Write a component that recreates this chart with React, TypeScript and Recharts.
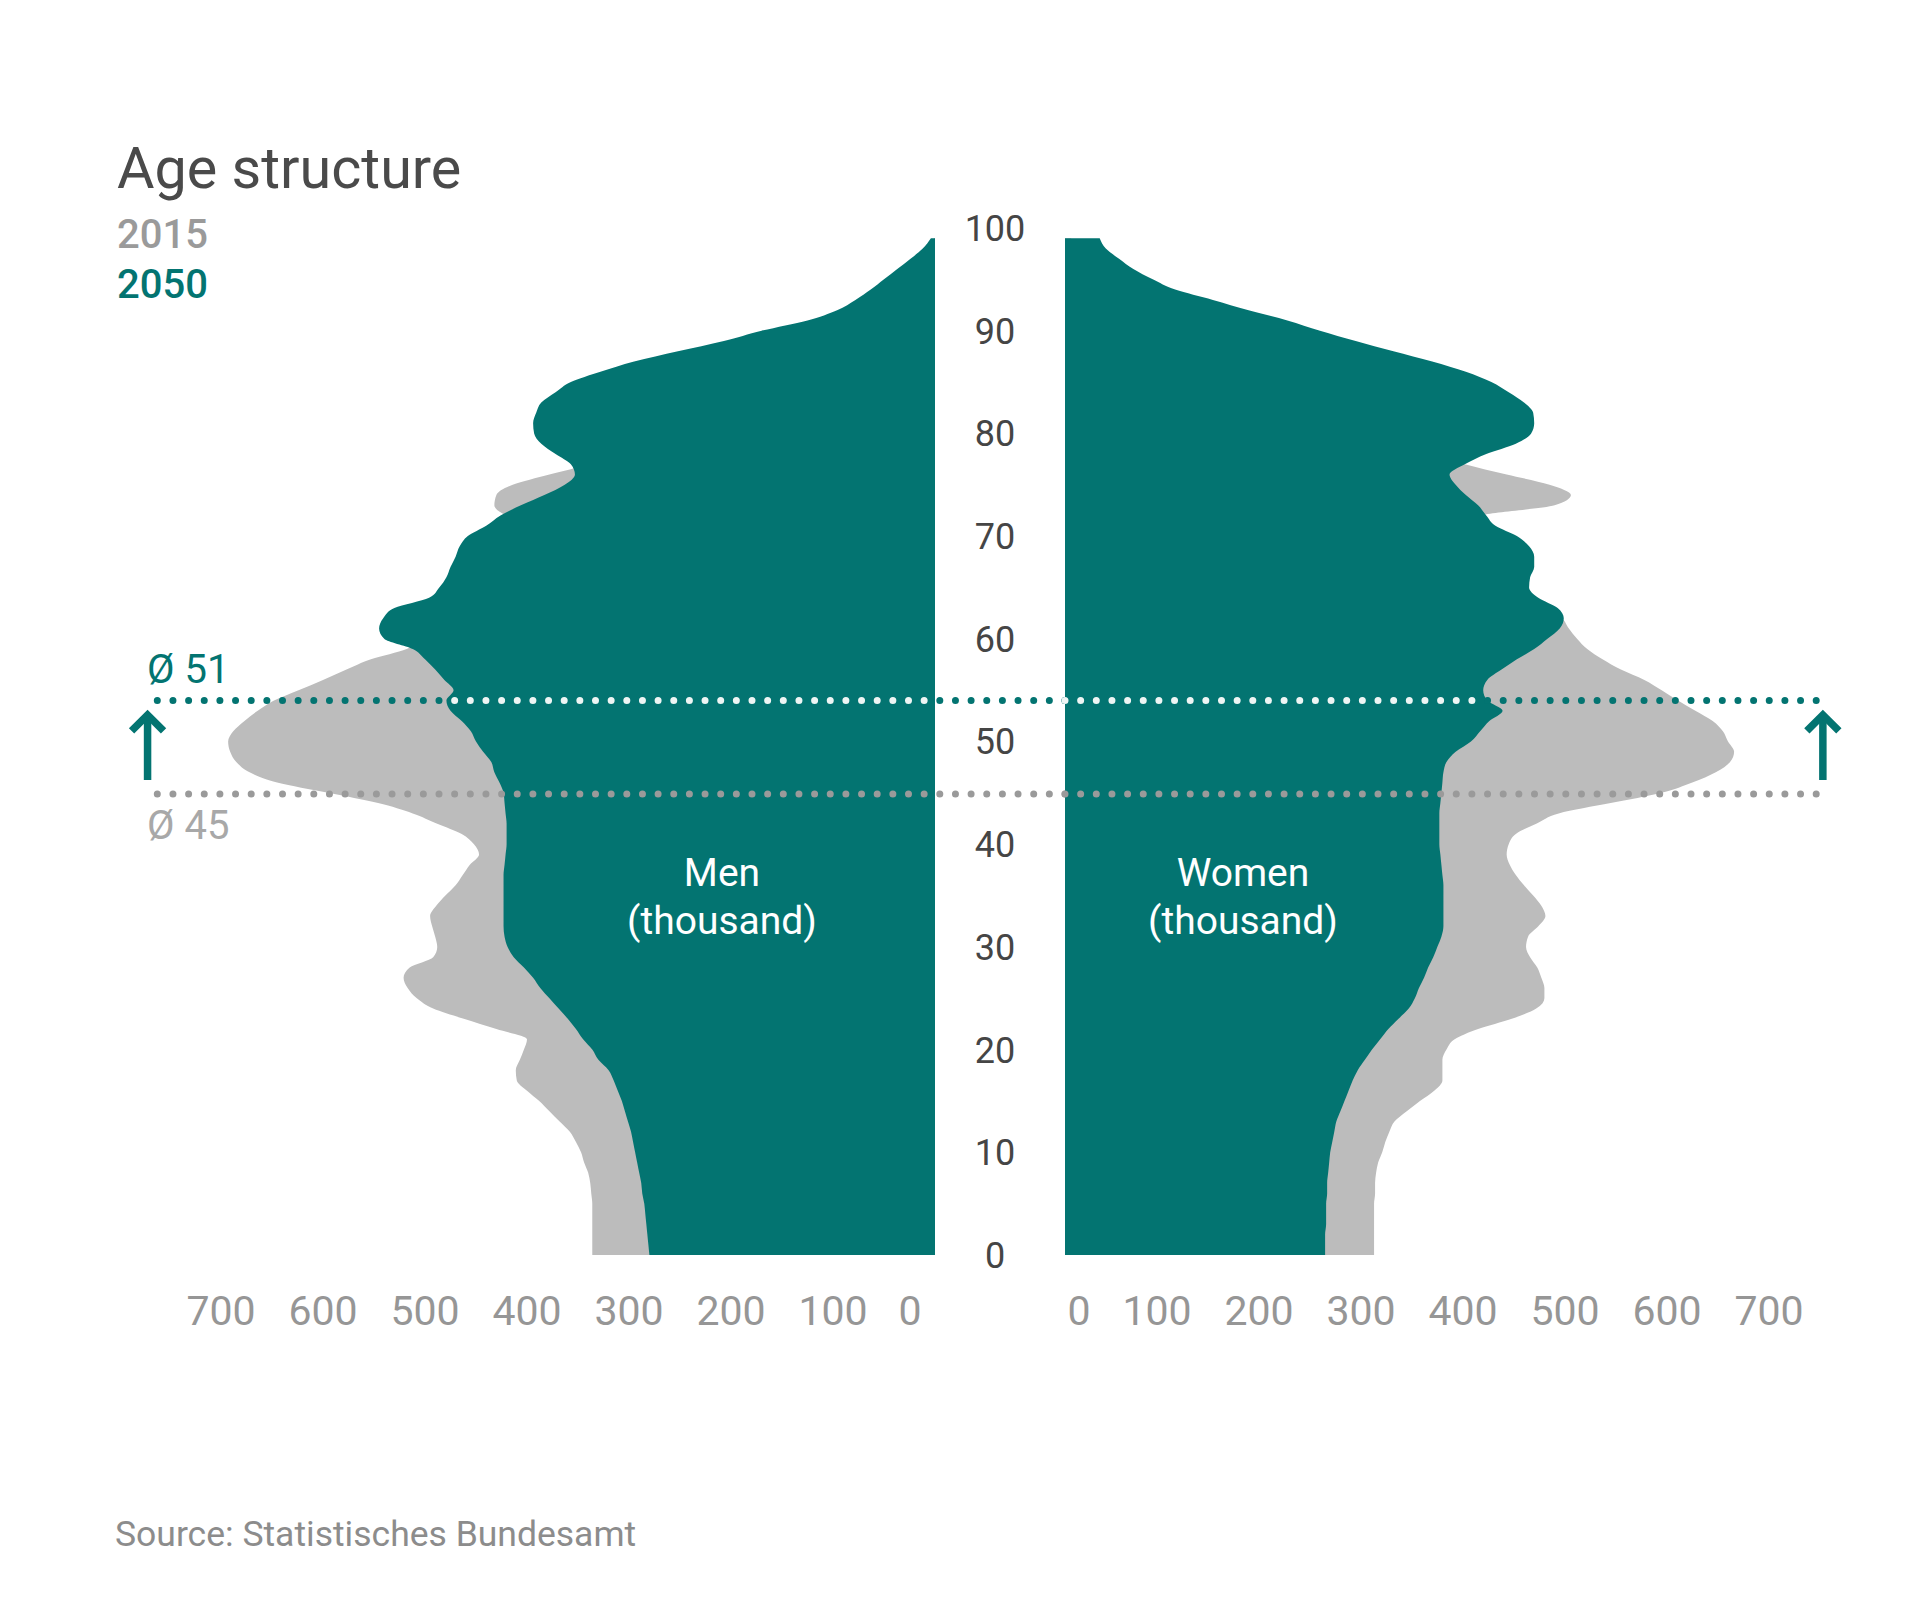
import React from 'react';
import { ComposedChart, Area, XAxis, YAxis, ReferenceLine } from 'recharts';

const TEAL = '#037471';
const AREA_GRAY = '#bcbcbc';
const DOT_GRAY = '#9a9a9a';

// ages 0..99
const ages = Array.from({ length: 100 }, (_, i) => i);

// population per single year of age, thousand
const men2015 = [
  336, 336, 336, 336, 336, 336, 337, 338, 340, 344,
  347, 352, 358, 368, 378, 388, 400, 410, 411, 407,
  403, 400, 430, 462, 492, 508, 517, 521, 515, 492,
  488, 490, 493, 495, 489, 480, 470, 463, 456, 447,
  452, 464, 488, 512, 546, 595, 645, 672, 685, 691,
  693, 688, 677, 664, 648, 624, 600, 577, 553, 518,
  505, 498, 490, 480, 468, 455, 440, 420, 400, 380,
  360, 390, 420, 432, 430, 414, 378, 340, 320, 300,
  270, 240, 210, 185, 160, 140, 120, 100, 80, 60,
  42, 30, 22, 15, 10, 7, 5, 3, 2, 1,
];
const men2050 = [
  280, 281, 282, 283, 284, 285, 287, 288, 290, 292,
  294, 296, 298, 301, 304, 307, 311, 315, 320, 330,
  336, 345, 352, 360, 369, 378, 387, 394, 403, 413,
  419, 422, 423, 423, 423, 423, 423, 423, 422, 421,
  420, 420, 420, 421, 422, 423, 427, 432, 435, 443,
  450, 455, 464, 475, 479, 472, 481, 490, 500, 512,
  540, 545, 541, 530, 496, 486, 479, 475, 470, 466,
  458, 440, 426, 406, 383, 363, 353, 357, 372, 386,
  393, 394, 391, 386, 372, 357, 328, 295, 252, 207,
  170, 125, 96, 78, 63, 50, 37, 24, 12, 4,
];
const women2015 = [
  303, 303, 303, 303, 303, 303, 304, 304, 305, 307,
  311, 314, 318, 323, 335, 348, 362, 370, 370, 370,
  374, 382, 405, 438, 462, 470, 470, 467, 463, 456,
  452, 454, 464, 471, 467, 459, 450, 442, 436, 433,
  435, 442, 462, 484, 535, 585, 615, 638, 652, 656,
  650, 645, 635, 618, 601, 585, 568, 545, 527, 512,
  502, 494, 487, 470, 455, 445, 430, 420, 405, 395,
  380, 395, 408, 480, 496, 475, 433, 392, 360, 340,
  310, 280, 250, 225, 200, 180, 160, 140, 120, 100,
  80, 65, 50, 40, 30, 22, 16, 11, 8, 6,
];
const women2050 = [
  255, 255, 255, 256, 256, 256, 257, 257, 258, 259,
  260, 262, 264, 266, 270, 274, 278, 282, 287, 294,
  301, 309, 317, 327, 337, 343, 347, 352, 356, 361,
  365, 369, 371, 371, 371, 371, 371, 370, 369, 368,
  367, 367, 367, 367, 368, 369, 370, 371, 374, 383,
  398, 407, 416, 429, 414, 410, 414, 428, 443, 460,
  473, 485, 489, 483, 464, 455, 456, 460, 460, 455,
  443, 422, 413, 405, 393, 383, 377, 392, 413, 442,
  457, 460, 459, 450, 435, 418, 393, 360, 322, 285,
  250, 218, 180, 145, 108, 86, 67, 53, 40, 34,
];

const valueTicks = [0, 100, 200, 300, 400, 500, 600, 700];
const ageTicks = [0, 10, 20, 30, 40, 50, 60, 70, 80, 90, 100];

// average age markers: labels and where the dotted lines sit
const avgLabel2015 = '45';
const avgLabel2050 = '51';
const avgLine2015 = 44.9;
const avgLine2050 = 54;

const menData = ages.map((age, i) => ({ age, y2015: men2015[i], y2050: men2050[i] }));
const womenData = ages.map((age, i) => ({ age, y2015: women2015[i], y2050: women2050[i] }));

const W = 1906;
const H = 1600;
const PLOT_TOP = 228;
const PLOT_BOTTOM = 1255;
const XAXIS_H = 60;
const MEN_LEFT = 221;
const MEN_RIGHT = 935;
const WOMEN_LEFT = 1065;
const WOMEN_RIGHT = 1779;
const AGE_AXIS_W = 70;
const DOT_STEP = 15.65;
const PX_PER_UNIT = (MEN_RIGHT - MEN_LEFT) / 700;
// gap between the two zero lines, in men-axis units (negative = right of zero)
const GAP_UNITS = -(WOMEN_LEFT - MEN_RIGHT) / PX_PER_UNIT;
const GAP_DASH_OFFSET = (WOMEN_LEFT - MEN_RIGHT) % DOT_STEP;

const makeValueTick = (shift: number, zeroShift: number) => (props: any) => {
  const { x, y, payload } = props;
  const v = payload.value;
  return (
    <text
      x={x + shift + (v === 0 ? zeroShift : 0)}
      y={y}
      dy={70}
      textAnchor="middle"
      fill="#969696"
      fontSize={41}
      fontFamily="Roboto"
    >
      {v}
    </text>
  );
};

const AgeTick = (props: any) => {
  const { x, y, payload } = props;
  return (
    <text x={x} y={y} dy="0.36em" textAnchor="middle" fill="#454545" fontSize={36} fontFamily="Roboto">
      {payload.value}
    </text>
  );
};

// segment goes tail -> tip
const Arrow = (props: any) => {
  const { x1, y1, x2, y2 } = props;
  return (
    <g>
      <line x1={x1} y1={y1} x2={x2} y2={y2 + 5} stroke={TEAL} strokeWidth={7.5} />
      <polyline
        points={`${x2 - 16},${y2 + 21} ${x2},${y2 + 5} ${x2 + 16},${y2 + 21}`}
        fill="none"
        stroke={TEAL}
        strokeWidth={7.5}
      />
    </g>
  );
};

const dotted = (color: string, offset = 0) => ({
  stroke: color,
  strokeWidth: 7,
  strokeDasharray: `0 ${DOT_STEP}`,
  strokeDashoffset: offset,
  strokeLinecap: 'round' as const,
  ifOverflow: 'visible' as const,
});

export default function App() {
  const bottomMargin = H - PLOT_BOTTOM - XAXIS_H;
  return (
    <div
      style={{
        position: 'absolute',
        left: 0,
        top: 0,
        width: W,
        height: H,
        background: '#fff',
        fontFamily: 'Roboto',
      }}
    >
      <div style={{ position: 'absolute', left: 0, top: 0 }}>
        <ComposedChart
          layout="vertical"
          width={W}
          height={H}
          data={menData}
          margin={{ top: PLOT_TOP, bottom: bottomMargin, left: MEN_LEFT, right: W - MEN_RIGHT }}
        >
          <XAxis
            type="number"
            domain={[0, 700]}
            ticks={valueTicks}
            interval={0}
            reversed
            axisLine={false}
            tickLine={false}
            tickSize={0}
            tickMargin={0}
            height={XAXIS_H}
            tick={makeValueTick(0, -25)}
          />
          <YAxis type="number" dataKey="age" domain={[0, 100]} reversed hide />
          <Area type="monotone" dataKey="y2015" fill={AREA_GRAY} fillOpacity={1} stroke="none" isAnimationActive={false} />
          <Area type="monotone" dataKey="y2050" fill={TEAL} fillOpacity={1} stroke="none" isAnimationActive={false} />
          <ReferenceLine segment={[{ x: GAP_UNITS, y: avgLine2050 }, { x: 764, y: avgLine2050 }]} {...dotted(TEAL)} />
          <ReferenceLine
            segment={[{ x: 0, y: avgLine2050 }, { x: men2050[54], y: avgLine2050 }]}
            {...dotted('#eef5f4', GAP_DASH_OFFSET)}
          />
          <ReferenceLine segment={[{ x: GAP_UNITS, y: avgLine2015 }, { x: 764, y: avgLine2015 }]} {...dotted(DOT_GRAY)} />
          <ReferenceLine
            segment={[{ x: 772, y: 46.25 }, { x: 772, y: 53.07 }]}
            ifOverflow="visible"
            shape={Arrow}
          />
        </ComposedChart>
      </div>

      <div style={{ position: 'absolute', left: 0, top: 0 }}>
        <ComposedChart
          layout="vertical"
          width={W}
          height={H}
          data={womenData}
          margin={{
            top: PLOT_TOP,
            bottom: bottomMargin,
            left: WOMEN_LEFT - AGE_AXIS_W,
            right: W - WOMEN_RIGHT,
          }}
        >
          <XAxis
            type="number"
            domain={[0, 700]}
            ticks={valueTicks}
            interval={0}
            axisLine={false}
            tickLine={false}
            tickSize={0}
            tickMargin={0}
            height={XAXIS_H}
            tick={makeValueTick(-10, 24)}
          />
          <YAxis
            type="number"
            dataKey="age"
            domain={[0, 100]}
            reversed
            ticks={ageTicks}
            interval={0}
            width={AGE_AXIS_W}
            axisLine={false}
            tickLine={false}
            tickSize={0}
            tickMargin={AGE_AXIS_W}
            tick={AgeTick}
          />
          <Area type="monotone" dataKey="y2015" fill={AREA_GRAY} fillOpacity={1} stroke="none" isAnimationActive={false} />
          <Area type="monotone" dataKey="y2050" fill={TEAL} fillOpacity={1} stroke="none" isAnimationActive={false} />
          <ReferenceLine segment={[{ x: 0, y: avgLine2050 }, { x: 739, y: avgLine2050 }]} {...dotted(TEAL)} />
          <ReferenceLine
            segment={[{ x: 0, y: avgLine2050 }, { x: women2050[54], y: avgLine2050 }]}
            {...dotted('#eef5f4')}
          />
          <ReferenceLine segment={[{ x: 0, y: avgLine2015 }, { x: 739, y: avgLine2015 }]} {...dotted(DOT_GRAY)} />
          <ReferenceLine
            segment={[{ x: 743, y: 46.25 }, { x: 743, y: 53.07 }]}
            ifOverflow="visible"
            shape={Arrow}
          />
        </ComposedChart>
      </div>

      <svg width={W} height={H} style={{ position: 'absolute', left: 0, top: 0, pointerEvents: 'none' }}>
        <g fontFamily="Roboto">
          <text x={117} y={188} fontSize={57.5} fill="#4a4a4a">Age structure</text>
          <text x={117} y={248} fontSize={40} fontWeight={500} fill="#9a9a9a">2015</text>
          <text x={117} y={298} fontSize={40} fontWeight={500} fill={TEAL}>2050</text>

          <text x={147} y={683} fontSize={40} fill={TEAL}>
            <tspan>Ø</tspan>
            <tspan dx={10}>{avgLabel2050}</tspan>
          </text>
          <text x={147} y={839} fontSize={40} fill="#a8a8a8">
            <tspan>Ø</tspan>
            <tspan dx={10}>{avgLabel2015}</tspan>
          </text>

          <text x={722} y={886} fontSize={39} fill="#fff" textAnchor="middle">Men</text>
          <text x={722} y={934} fontSize={39} fill="#fff" textAnchor="middle">(thousand)</text>
          <text x={1243} y={886} fontSize={39} fill="#fff" textAnchor="middle">Women</text>
          <text x={1243} y={934} fontSize={39} fill="#fff" textAnchor="middle">(thousand)</text>

          <text x={115} y={1546} fontSize={35.5} fill="#8c8c8c">Source: Statistisches Bundesamt</text>
        </g>
      </svg>
    </div>
  );
}
